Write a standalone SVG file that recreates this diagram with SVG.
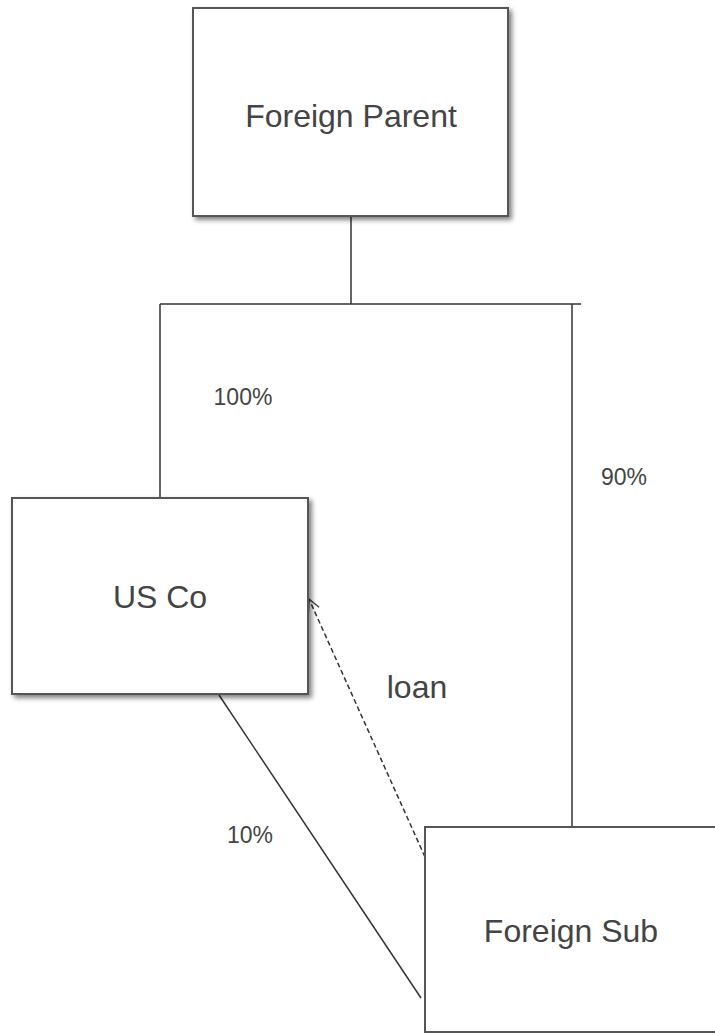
<svg xmlns="http://www.w3.org/2000/svg" width="715" height="1033" viewBox="0 0 715 1033">
<defs>
<filter id="sh" x="-10%" y="-10%" width="130%" height="130%">
<feGaussianBlur in="SourceAlpha" stdDeviation="2.5"/>
<feOffset dx="3" dy="3" result="b"/>
<feComponentTransfer><feFuncA type="linear" slope="0.5"/></feComponentTransfer>
<feMerge><feMergeNode/><feMergeNode in="SourceGraphic"/></feMerge>
</filter>
<marker id="open" markerWidth="14" markerHeight="14" refX="12" refY="7" orient="auto" markerUnits="userSpaceOnUse">
<path d="M0,1 L12,7 L0,13" fill="none" stroke="#444" stroke-width="1.5"/>
</marker>
</defs>
<style>
.box{fill:#fff;stroke:#555;stroke-width:2}
.lbl{font-family:"Liberation Sans",Arial,sans-serif;fill:#444;text-anchor:middle}
.big{font-size:32px}
.sm{font-size:23px}
.ln{fill:none;stroke:#333;stroke-width:1.5}
</style>
<rect width="715" height="1033" fill="#fff"/>
<g id="connectors">
<line class="ln" x1="351" y1="216" x2="351" y2="304"/>
<line class="ln" x1="160" y1="304" x2="581" y2="304"/>
<line class="ln" x1="160" y1="304" x2="160" y2="497"/>
<line class="ln" x1="572" y1="304" x2="572" y2="827"/>
<line class="ln" x1="219" y1="695" x2="421" y2="998"/>
<line class="ln" x1="425" y1="857" x2="309" y2="599" stroke-dasharray="5,3" marker-end="url(#open)"/>
</g>
<g id="foreign-parent">
<rect class="box" x="193" y="8" width="315" height="208" filter="url(#sh)"/>
<text class="lbl big" x="351" y="127">Foreign Parent</text>
</g>
<g id="us-co">
<rect class="box" x="12" y="498" width="296" height="196" filter="url(#sh)"/>
<text class="lbl big" x="160" y="608">US Co</text>
</g>
<g id="foreign-sub">
<rect class="box" x="425" y="827" width="300" height="205"/>
<text class="lbl big" x="571" y="942">Foreign Sub</text>
</g>
<g id="labels">
<text class="lbl sm" x="243" y="405">100%</text>
<text class="lbl sm" x="624" y="485">90%</text>
<text class="lbl sm" x="250" y="843">10%</text>
<text class="lbl big" x="417" y="698">loan</text>
</g>
</svg>
